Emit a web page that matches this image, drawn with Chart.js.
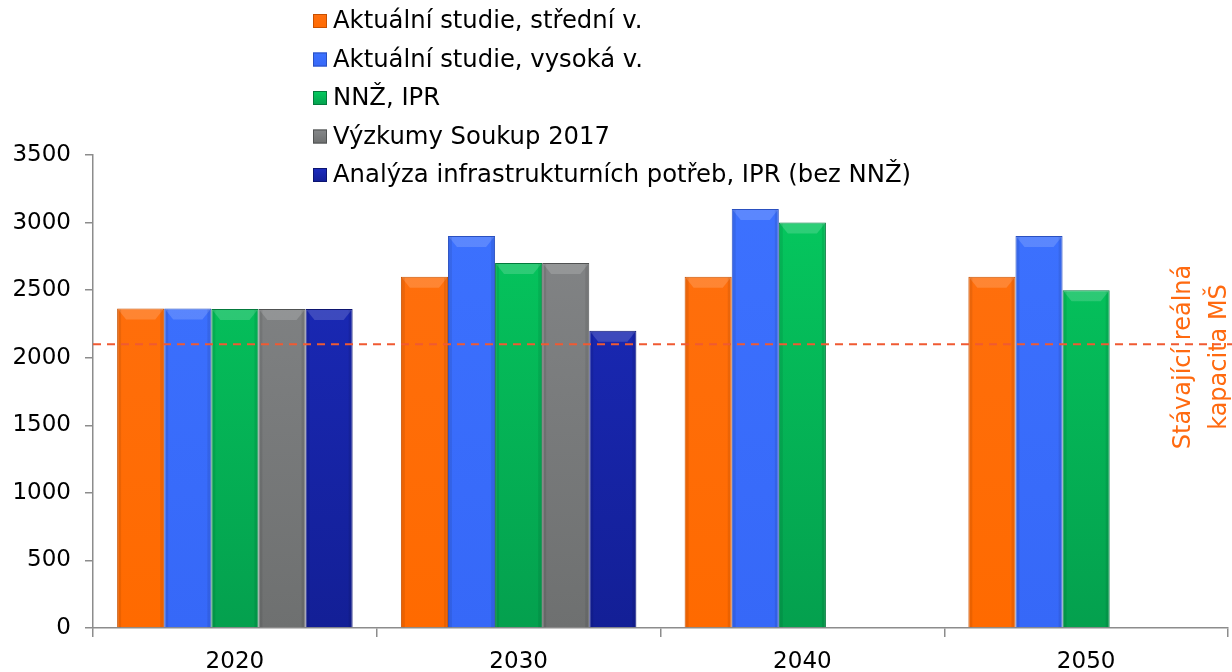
<!DOCTYPE html>
<html>
<head>
<meta charset="utf-8">
<script src="https://cdn.jsdelivr.net/npm/chart.js@4"></script>
<style>
  html, body { margin: 0; padding: 0; background: #fff; }
  #wrap { width: 1232px; height: 672px; position: relative; }
</style>
</head>
<body>
<div id="wrap"><canvas id="chart"></canvas></div>
<script>
// data
const years = ["2020", "2030", "2040", "2050"];
const stredni = [2365, 2600, 2600, 2600];
const vysoka = [2365, 2900, 3100, 2900];
const nnzIpr = [2360, 2700, 3000, 2500];
const soukup = [2360, 2700, null, null];
const analyza = [2360, 2200, null, null];
const seriesLabels = [
  "Aktuální studie, střední v.",
  "Aktuální studie, vysoká v.",
  "NNŽ, IPR",
  "Výzkumy Soukup 2017",
  "Analýza infrastrukturních potřeb, IPR (bez NNŽ)"
];
const kapacita = 2100;
const kapacitaText = ["Stávající reálná", "kapacita MŠ"];

// styles
const FONT = "'DejaVu Sans', Verdana, sans-serif";
const topCols = ["#ff7010", "#3d72ff", "#05cc60", "#86888a", "#1c2cc0"];
const botCols = ["#ff6a00", "#3668f8", "#04a04e", "#6e7070", "#131f96"];
const edgeCols = ["#c85000", "#2a50c0", "#037a3c", "#505252", "#0c1470"];

function barFill(i) {
  return (ctx) => {
    const ca = ctx.chart.chartArea;
    if (!ca) return topCols[i];
    const g = ctx.chart.ctx.createLinearGradient(0, ca.top, 0, ca.bottom);
    g.addColorStop(0, topCols[i]);
    g.addColorStop(1, botCols[i]);
    return g;
  };
}

const allSeries = [stredni, vysoka, nnzIpr, soukup, analyza];
const datasets = allSeries.map((d, i) => ({
  label: seriesLabels[i],
  data: d,
  backgroundColor: barFill(i),
  borderColor: edgeCols[i],
  borderWidth: 1,
  categoryPercentage: 0.83,
  barPercentage: 1.0
}));

// bevel on top of every bar
const bevel = {
  id: "bevel",
  afterDatasetsDraw(chart) {
    const ctx = chart.ctx;
    chart.data.datasets.forEach((ds, i) => {
      chart.getDatasetMeta(i).data.forEach((bar, j) => {
        if (ds.data[j] == null) return;
        const l = bar.x - bar.width / 2, r = bar.x + bar.width / 2;
        const t = bar.y, b = bar.base;
        ctx.save();
        ctx.fillStyle = "rgba(255,255,255,0.16)";
        ctx.beginPath();
        ctx.moveTo(l + 1, t + 1);
        ctx.lineTo(r - 1, t + 1);
        ctx.lineTo(r - 9, t + 11);
        ctx.lineTo(l + 9, t + 11);
        ctx.closePath();
        ctx.fill();
        ctx.fillStyle = "rgba(0,0,0,0.08)";
        ctx.fillRect(l + 1, t + 1, 3, b - t - 1);
        ctx.fillRect(r - 4, t + 1, 3, b - t - 1);
        ctx.restore();
      });
    });
  }
};

// dashed capacity line, its label and the legend
const extras = {
  id: "extras",
  afterDraw(chart) {
    const ctx = chart.ctx;
    const y = chart.scales.y.getPixelForValue(kapacita);
    const ca = chart.chartArea;
    ctx.save();
    ctx.strokeStyle = "#f05a32";
    ctx.lineWidth = 2;
    ctx.setLineDash([8, 6]);
    ctx.beginPath();
    ctx.moveTo(ca.left, y);
    ctx.lineTo(chart.width, y);
    ctx.stroke();
    ctx.restore();

    ctx.save();
    ctx.fillStyle = "#ff6a10";
    ctx.font = "24px " + FONT;
    ctx.textAlign = "center";
    ctx.textBaseline = "middle";
    ctx.translate(1184, 357);
    ctx.rotate(-Math.PI / 2);
    ctx.fillText(kapacitaText[0], 0, 0);
    ctx.fillText(kapacitaText[1], 0, 36);
    ctx.restore();

    ctx.save();
    ctx.font = "24.3px " + FONT;
    ctx.textBaseline = "middle";
    chart.data.datasets.forEach((ds, i) => {
      const ry = 21 + i * 38.5;
      const g = ctx.createLinearGradient(0, ry - 7, 0, ry + 7);
      g.addColorStop(0, topCols[i]);
      g.addColorStop(1, botCols[i]);
      ctx.fillStyle = g;
      ctx.fillRect(313, ry - 7, 14, 14);
      ctx.strokeStyle = edgeCols[i];
      ctx.lineWidth = 1;
      ctx.strokeRect(313.5, ry - 6.5, 13, 13);
      ctx.fillStyle = "#000";
      ctx.fillText(ds.label, 333, ry + 1);
    });
    ctx.restore();
  }
};

new Chart(document.querySelector("#chart"), {
  type: "bar",
  data: { labels: years, datasets: datasets },
  options: {
    animation: false,
    responsive: true,
    maintainAspectRatio: false,
    layout: { padding: { top: 155, right: 4, left: 0, bottom: 0 } },
    plugins: { legend: { display: false }, tooltip: { enabled: false } },
    scales: {
      x: {
        grid: { offset: true, drawOnChartArea: false, tickLength: 9, color: "#8c8c8c", lineWidth: 1.5 },
        border: { color: "#8c8c8c", width: 1.5 },
        ticks: { color: "#000", font: { family: FONT, size: 23 }, padding: 11 },
        afterFit(s) { s.height = 44; }
      },
      y: {
        min: 0,
        max: 3500,
        ticks: {
          stepSize: 500,
          color: "#000",
          font: { family: FONT, size: 23 },
          padding: 14,
          callback: (v) => String(v)
        },
        grid: { drawOnChartArea: false, tickLength: 8, color: "#8c8c8c", lineWidth: 1.5 },
        border: { color: "#8c8c8c", width: 1.5 },
        afterFit(s) { s.width = 93; }
      }
    }
  },
  plugins: [bevel, extras]
});
</script>
</body>
</html>
